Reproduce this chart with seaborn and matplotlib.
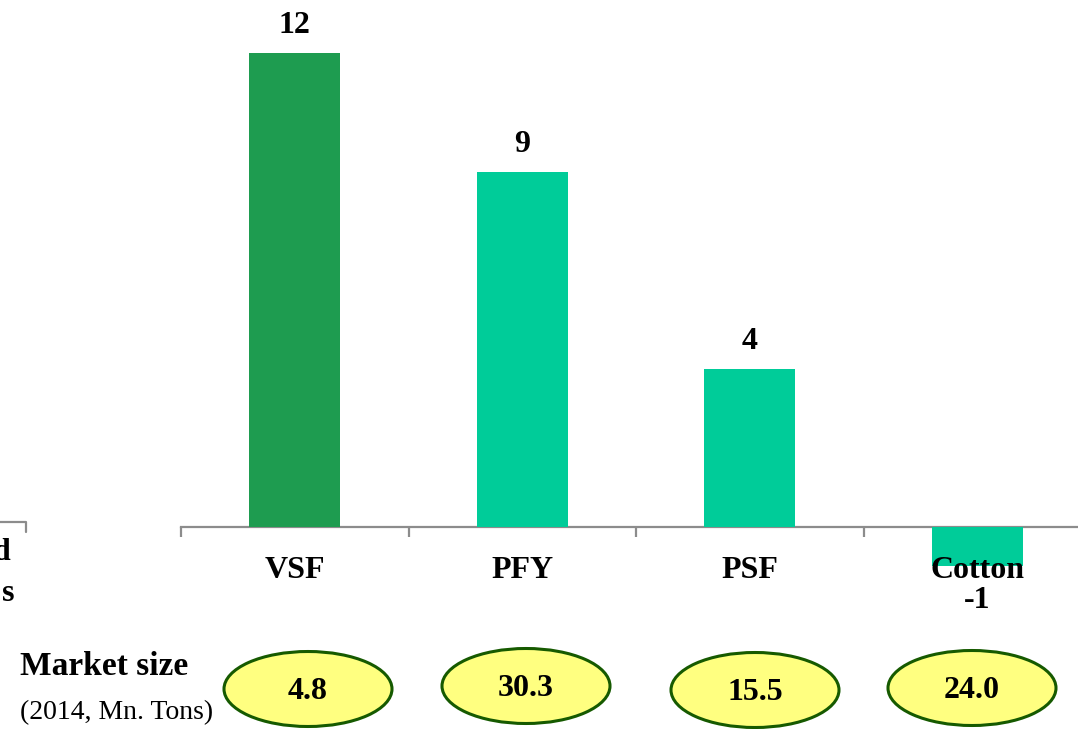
import matplotlib
matplotlib.use("Agg")
import matplotlib.pyplot as plt
from matplotlib.patches import Ellipse
from matplotlib.lines import Line2D
import seaborn as sns

# Fibre categories and expected growth values
categories = ["VSF", "PFY", "PSF", "Cotton"]
growth = [12, 9, 4, -1]
bar_colors = ["#1e9c50", "#00cc99", "#00cc99", "#00cc99"]

# Market size (2014, Mn. Tons)
market_size = [4.8, 30.3, 15.5, 24.0]

sns.set_style("white")
plt.rcParams["font.family"] = ["Liberation Serif", "DejaVu Serif"]
plt.rcParams["text.color"] = "black"

W, H, DPI = 1078, 729, 100
fig = plt.figure(figsize=(W / DPI, H / DPI), dpi=DPI)
fig.patch.set_facecolor("white")


def fx(px):
    return px / W


def fy(py):
    return 1 - py / H


def pt(px):
    return px * 72 / DPI


# Main bar panel (extends past the right edge of the figure)
ax = fig.add_axes([fx(181), 0, 910 / W, 1])
ax.set_facecolor("none")
sns.barplot(x=categories, y=growth, hue=categories, palette=bar_colors,
            width=0.4, saturation=1, legend=False, linewidth=0, ax=ax)

zero_px = 527
px_per_unit = 39.47
ax.set_ylim(-(H - zero_px) / px_per_unit, zero_px / px_per_unit)
ax.set_xlim(-0.5, 3.5)

for s in ["top", "right", "left"]:
    ax.spines[s].set_visible(False)
ax.spines["bottom"].set_position(("data", 0))
ax.spines["bottom"].set_color("#8c8c8c")
ax.spines["bottom"].set_linewidth(1.6)
ax.spines["bottom"].set_zorder(0.5)
ax.set_xticks([-0.5, 0.5, 1.5, 2.5, 3.5])
ax.tick_params(axis="x", bottom=True, direction="out", length=pt(10), width=1.6,
               color="#8c8c8c", labelbottom=False)
ax.set_yticks([])
ax.set_xlabel("")
ax.set_ylabel("")

bold_size = 23

# Value labels
for i, v in enumerate(growth):
    if v >= 0:
        ax.annotate(f"{v:g}", (i, v), xytext=(0, pt(20)), textcoords="offset points",
                    ha="center", va="baseline", fontsize=bold_size, fontweight="bold",
                    color="black")
    else:
        ax.annotate(f"{v:g}", (i, v), xytext=(0, -pt(42)), textcoords="offset points",
                    ha="center", va="baseline", fontsize=bold_size, fontweight="bold",
                    color="black")

# Category labels
for i, name in enumerate(categories):
    ax.annotate(name, (i, 0), xytext=(0, -pt(51)), textcoords="offset points",
                ha="center", va="baseline", fontsize=bold_size, fontweight="bold",
                color="black", zorder=5)

# Edge of the neighbouring panel
fig.add_artist(Line2D([fx(-2), fx(26), fx(26)], [fy(522), fy(522), fy(532)],
                      transform=fig.transFigure, color="#8c8c8c", lw=1.6))
fig.text(fx(10), fy(560), "d", ha="right", va="baseline",
         fontsize=bold_size, fontweight="bold", color="black")
fig.text(fx(14), fy(601), "s", ha="right", va="baseline",
         fontsize=bold_size, fontweight="bold", color="black")

# Market size row
fig.text(fx(20), fy(675), "Market size", ha="left", va="baseline",
         fontsize=24, fontweight="bold", color="black")
fig.text(fx(20), fy(719), "(2014, Mn. Tons)", ha="left", va="baseline",
         fontsize=20, color="black")

ellipse_x = [308, 526, 755, 972]
ellipse_y = [689, 686, 690, 688]
for cx, cy, val in zip(ellipse_x, ellipse_y, market_size):
    fig.add_artist(Ellipse((fx(cx), fy(cy)), 168 / W, 75 / H,
                           transform=fig.transFigure, facecolor="#ffff80",
                           edgecolor="#165a00", lw=2.2))
    fig.text(fx(cx), fy(cy + 10), f"{val:.1f}", ha="center", va="baseline",
             fontsize=bold_size, fontweight="bold", color="black")

fig.savefig("out.png", dpi=DPI, facecolor="white")
